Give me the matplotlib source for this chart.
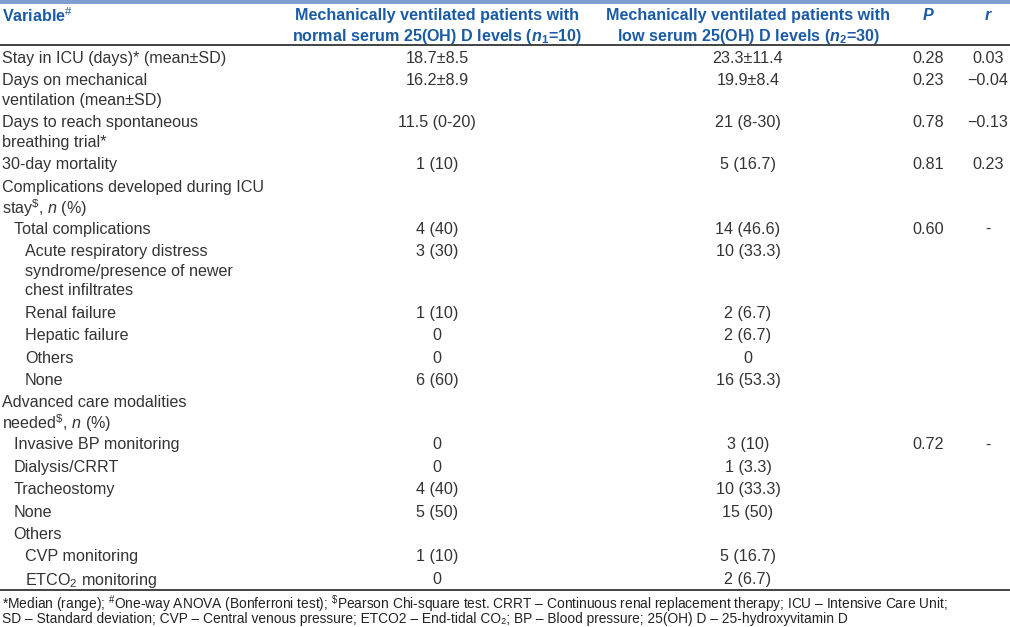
import matplotlib
matplotlib.use("Agg")
import matplotlib.pyplot as plt

plt.rcParams["font.family"] = ["Liberation Sans", "DejaVu Sans"]
plt.rcParams["mathtext.fontset"] = "custom"
plt.rcParams["mathtext.rm"] = "Liberation Sans"
plt.rcParams["mathtext.it"] = "Liberation Sans:italic"
plt.rcParams["mathtext.bf"] = "Liberation Sans:bold"
plt.rcParams["mathtext.bfit"] = "Liberation Sans:italic:bold"

# table content
headers = [
    "Variable$^{\\#}$",
    "Mechanically ventilated patients with\nnormal serum 25(OH) D levels ($\\mathbfit{n}_{\\mathbf{1}}$=10)",
    "Mechanically ventilated patients with\nlow serum 25(OH) D levels ($\\mathbfit{n}_{\\mathbf{2}}$=30)",
    "P",
    "r",
]

labels = [
    "Stay in ICU (days)* (mean±SD)",
    "Days on mechanical\nventilation (mean±SD)",
    "Days to reach spontaneous\nbreathing trial*",
    "30-day mortality",
    "Complications developed during ICU\nstay$^{\\$}$, $\\mathit{n}$ (%)",
    "Total complications",
    "Acute respiratory distress\nsyndrome/presence of newer\nchest infiltrates",
    "Renal failure",
    "Hepatic failure",
    "Others",
    "None",
    "Advanced care modalities\nneeded$^{\\$}$, $\\mathit{n}$ (%)",
    "Invasive BP monitoring",
    "Dialysis/CRRT",
    "Tracheostomy",
    "None",
    "Others",
    "CVP monitoring",
    "ETCO$_{2}$ monitoring",
]
indent = [0, 0, 0, 0, 0, 1, 2, 2, 2, 2, 2, 0, 1, 1, 1, 1, 1, 2, 2]

normal_vals = ["18.7±8.5", "16.2±8.9", "11.5 (0-20)", "1 (10)", "", "4 (40)",
               "3 (30)", "1 (10)", "0", "0", "6 (60)", "", "0", "0", "4 (40)",
               "5 (50)", "", "1 (10)", "0"]
low_vals = ["23.3±11.4", "19.9±8.4", "21 (8-30)", "5 (16.7)", "", "14 (46.6)",
            "10 (33.3)", "2 (6.7)", "2 (6.7)", "0", "16 (53.3)", "", "3 (10)",
            "1 (3.3)", "10 (33.3)", "15 (50)", "", "5 (16.7)", "2 (6.7)"]
p_vals = ["0.28", "0.23", "0.78", "0.81", "", "0.60", "", "", "", "", "", "",
          "0.72", "", "", "", "", "", ""]
r_vals = ["0.03", "\u22120.04", "\u22120.13", "0.23", "", "-", "", "", "", "", "", "",
          "-", "", "", "", "", "", ""]

footnotes = [
    "*Median (range); $^{\\#}$One-way ANOVA (Bonferroni test); $^{\\$}$Pearson Chi-square test. "
    "CRRT \u2013 Continuous renal replacement therapy; ICU \u2013 Intensive Care Unit;",
    "SD \u2013 Standard deviation; CVP \u2013 Central venous pressure; ETCO2 \u2013 End-tidal CO\u2082; "
    "BP \u2013 Blood pressure; 25(OH) D \u2013 25-hydroxyvitamin D",
]

W, H = 1010, 627
fig = plt.figure(figsize=(W / 100, H / 100), dpi=100)
ax = fig.add_axes([0, 0, 1, 1])
ax.set_xlim(0, W)
ax.set_ylim(H, 0)
ax.axis("off")

hdr_col = "#1b5ba6"
txt_col = "#333333"
fs = 11.6
col_x = [2, 437, 748, 928, 988]

# top band and rules
ax.axhspan(0, 4, color="#7f9fcf", lw=0)
ax.plot([0, W], [45, 45], color="#222222", lw=1.2)
ax.plot([0, W], [590, 590], color="#222222", lw=1.2)

# header
for i, h in enumerate(headers):
    for k, line in enumerate(h.split("\n")):
        ax.text(col_x[i], 14 + 19.5 * k, line, ha="left" if i == 0 else "center",
                va="center_baseline", fontsize=fs, fontweight="bold",
                fontstyle="italic" if i >= 3 else "normal", color=hdr_col)

# body rows
y = 57
for i, lab in enumerate(labels):
    lines = lab.split("\n")
    for k, line in enumerate(lines):
        ax.text(col_x[0] + 11.5 * indent[i], y + 19.6 * k, line, ha="left",
                va="center_baseline", fontsize=fs, color=txt_col)
    for c, vals in enumerate([normal_vals, low_vals, p_vals, r_vals]):
        if vals[i]:
            ax.text(col_x[c + 1], y, vals[i], ha="center", va="center_baseline",
                    fontsize=fs, color=txt_col)
    y += 22.4 + 19.6 * (len(lines) - 1)

# footnotes
for k, note in enumerate(footnotes):
    ax.text(2, 601 + 17 * k, note, ha="left", va="center_baseline",
            fontsize=9.95, color="#222222")

fig.savefig("out.png", dpi=100)
